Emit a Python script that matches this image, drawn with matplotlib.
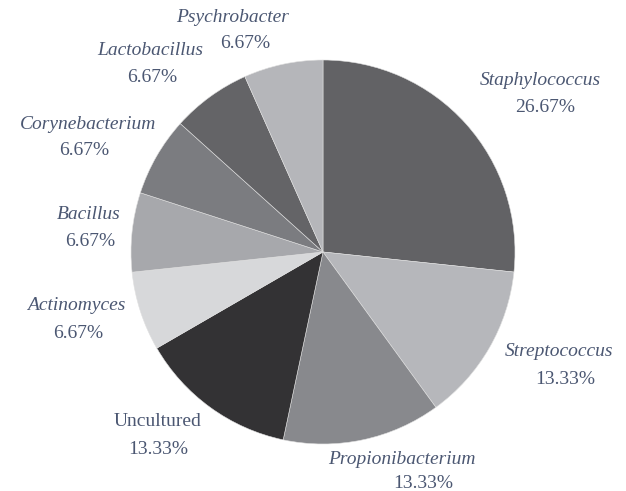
import matplotlib
matplotlib.use("Agg")
import matplotlib.pyplot as plt

genera = ["Staphylococcus", "Streptococcus", "Propionibacterium", "Uncultured",
          "Actinomyces", "Bacillus", "Corynebacterium", "Lactobacillus", "Psychrobacter"]
shares = [26.67, 13.33, 13.33, 13.33, 6.67, 6.67, 6.67, 6.67, 6.67]
pct_labels = ["26.67%", "13.33%", "13.33%", "13.33%", "6.67%", "6.67%", "6.67%", "6.67%", "6.67%"]

colors = ["#626265", "#b6b7bb", "#88898d", "#333234", "#d7d8da",
          "#a7a8ac", "#7b7c80", "#646467", "#b5b6ba"]
italic = [True, True, True, False, True, True, True, True, True]
# label anchor positions in image pixels (name line, percent line)
name_pos = [(540, 80), (559, 352), (402, 460), (158, 422), (76, 306),
            (89, 214), (88, 124), (150, 50), (233, 17)]
pct_pos = [(545, 107), (565, 379), (423, 484), (158, 450), (78, 333),
           (90, 241), (84, 150), (152, 77), (245, 43)]

W, H = 626, 491
fig = plt.figure(figsize=(W / 100, H / 100), dpi=100)
ax = fig.add_axes([0, 0, 1, 1])

ax.pie(shares, colors=colors, startangle=90, counterclock=False,
       center=(323, H - 252), radius=192,
       wedgeprops=dict(linewidth=0.4, edgecolor="#e0e0e0"), frame=True)
ax.set_xlim(0, W)
ax.set_ylim(0, H)
ax.axis("off")

txt_color = "#4b5772"
for g, p, it, npos, ppos in zip(genera, pct_labels, italic, name_pos, pct_pos):
    ax.text(npos[0], H - npos[1], g, ha="center", va="center", fontsize=14,
            family="Liberation Serif", style="italic" if it else "normal", color=txt_color)
    ax.text(ppos[0], H - ppos[1], p, ha="center", va="center", fontsize=14,
            family="Liberation Serif", color=txt_color)

fig.savefig("out.png", dpi=100)
